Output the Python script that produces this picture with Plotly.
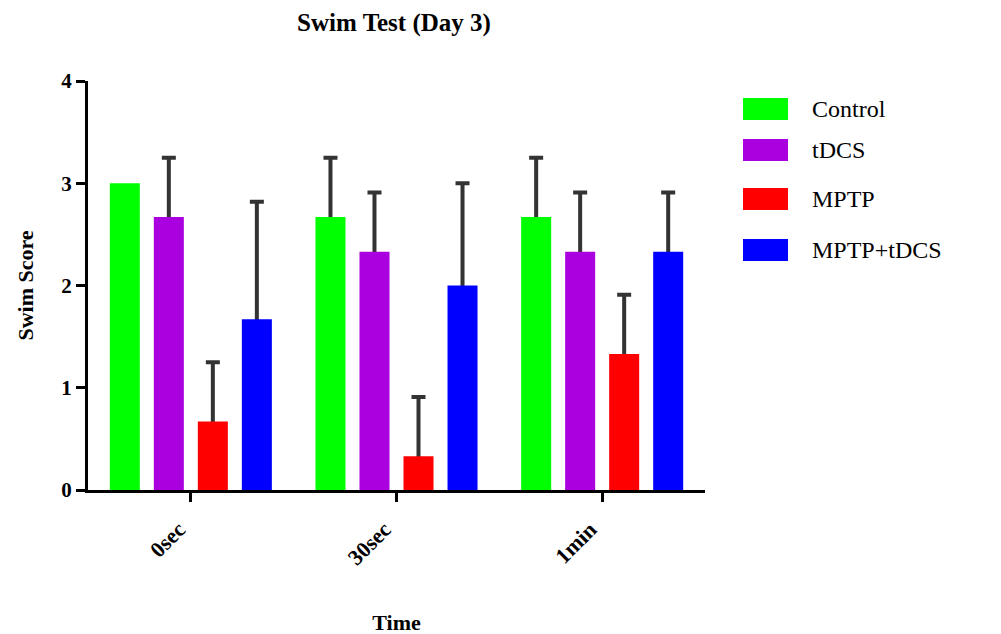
import plotly.graph_objects as go

categories = ["0sec", "30sec", "1min"]
series_names = ["Control", "tDCS", "MPTP", "MPTP+tDCS"]
control = [3.0, 2.67, 2.67]
control_err = [0.0, 0.58, 0.58]
tdcs = [2.67, 2.33, 2.33]
tdcs_err = [0.58, 0.58, 0.58]
mptp = [0.67, 0.33, 1.33]
mptp_err = [0.58, 0.58, 0.58]
mptp_tdcs = [1.67, 2.0, 2.33]
mptp_tdcs_err = [1.15, 1.0, 0.58]
colors = ["#00ff00", "#aa00e0", "#ff0000", "#0000ff"]
y_ticks = [0, 1, 2, 3, 4]

values = [control, tdcs, mptp, mptp_tdcs]
errors = [control_err, tdcs_err, mptp_err, mptp_tdcs_err]

FONT = "Liberation Serif"
OFF = 8  # page body margin offset in the browser
DELTA = 0.05  # hide lower cap of the one-sided error bar beneath the bar

fig = go.Figure()
# error bars first (transparent bars), so the real bars cover the lower caps
for k, (name, vals, errs) in enumerate(zip(series_names, values, errors)):
    fig.add_trace(go.Bar(
        x=categories, y=[v - DELTA for v in vals], name=name + " err",
        offsetgroup=str(k),
        marker=dict(color="rgba(0,0,0,0)", line=dict(width=0)),
        error_y=dict(type="data",
                     array=[(e + DELTA) if e > 0 else 0 for e in errs],
                     arrayminus=[0] * len(errs), symmetric=False,
                     color="#333333", thickness=4, width=7),
        showlegend=False, hoverinfo="skip",
    ))
for k, (name, vals, col) in enumerate(zip(series_names, values, colors)):
    fig.add_trace(go.Bar(
        x=categories, y=vals, name=name, offsetgroup=str(k),
        marker=dict(color=col, line=dict(width=0)),
        showlegend=False,
    ))

# plot area in page pixels: x 88..705, y 81..490
PX0, PX1, PY0, PY1 = 88, 705, 81, 490
def px(x):
    return (x - PX0) / (PX1 - PX0)
def py(y):
    return (PY1 - y) / (PY1 - PY0)

legend_y = [109, 150, 199, 250]
shapes = []
annotations = []
for name, col, yc in zip(series_names, colors, legend_y):
    shapes.append(dict(type="rect", xref="paper", yref="paper",
                       x0=px(743), x1=px(788), y0=py(yc + 11), y1=py(yc - 11),
                       fillcolor=col, line=dict(width=0)))
    annotations.append(dict(xref="paper", yref="paper", x=px(810), y=py(yc),
                            text=name, showarrow=False, xanchor="left", yanchor="middle",
                            font=dict(family=FONT, size=24, color="black")))

fig.update_layout(
    width=1001, height=634,
    margin=dict(l=PX0 - OFF, r=1001 + OFF - PX1, t=PY0 - OFF, b=634 + OFF - PY1,
                autoexpand=False),
    paper_bgcolor="white", plot_bgcolor="white",
    barmode="group", bargap=0.144, bargroupgap=0.318,
    title=dict(text="<b>Swim Test (Day 3)</b>", x=(394 - OFF) / 1001, xanchor="center",
               y=1 - (22 - OFF) / 634, yanchor="middle",
               font=dict(family=FONT, size=25, color="black")),
    xaxis=dict(
        showline=True, linecolor="black", linewidth=3,
        ticks="outside", ticklen=9, tickwidth=3, tickcolor="black",
        tickangle=-45, ticklabelshift=-12, ticklabelstandoff=6,
        tickfont=dict(family=FONT, size=22, color="black", weight="bold"),
        title=dict(text="<b>Time</b>", standoff=46,
                   font=dict(family=FONT, size=22, color="black")),
        range=[-0.5, 2.5], showgrid=False, zeroline=False,
    ),
    yaxis=dict(
        range=[0, 4], tickvals=y_ticks,
        showline=True, linecolor="black", linewidth=3,
        ticks="outside", ticklen=9, tickwidth=3, tickcolor="black",
        tickfont=dict(family=FONT, size=21, color="black", weight="bold"),
        title=dict(text="<b>Swim Score</b>", standoff=22,
                   font=dict(family=FONT, size=22, color="black")),
        showgrid=False, zeroline=False,
    ),
    shapes=shapes, annotations=annotations,
)

fig.write_html("out.html")
